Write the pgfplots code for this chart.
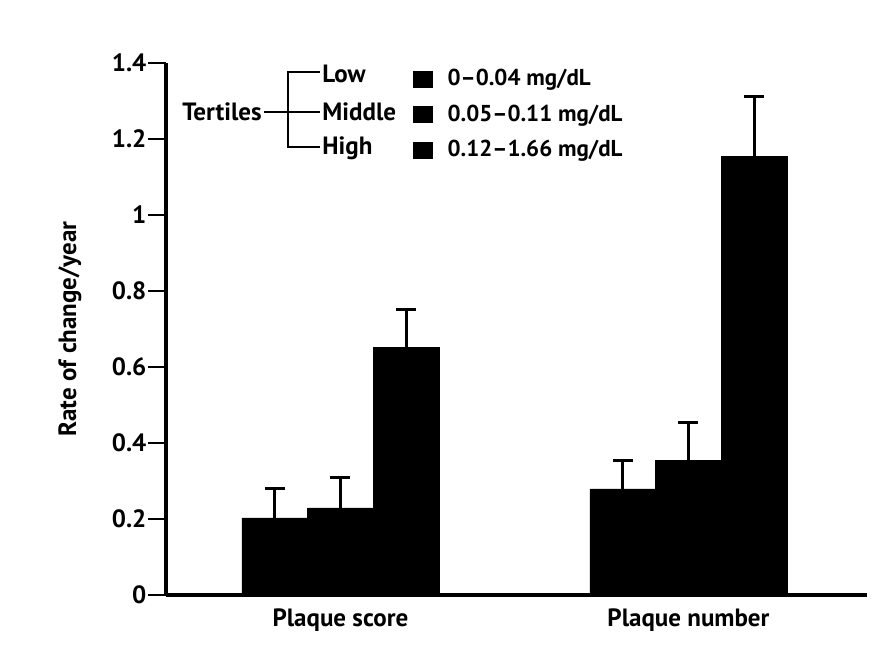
\documentclass[border=0pt]{standalone}
\usepackage{pgfplots}
\usepackage{pgfplotstable}
\pgfplotsset{compat=1.18}
\usetikzlibrary{plotmarks}
\usepackage{fontspec}
\setmainfont{PT Sans}
\pgfplotstableread{
x y e
0.8112 0.203 0.076
1.8112 0.279 0.076
}\lowdata
\pgfplotstableread{
x y e
1.0 0.229 0.079
2.0 0.355 0.098
}\middata
\pgfplotstableread{
x y e
1.1888 0.652 0.098
2.1888 1.155 0.156
}\highdata
\newcommand{\lblfont}{\bfseries\fontsize{12.5}{14}\selectfont}
\pgfplotsset{
  mybar/.style={ybar, bar width=0.1888, bar shift=0pt, fill=black, draw=black, line width=0.2pt,
    error bars/.cd, y dir=plus, y explicit, error mark=|,
    error bar style={draw=black, line width=1.5pt},
    error mark options={draw=black, line width=1.5pt, mark size=5pt}}
}
\begin{document}
\begin{tikzpicture}
\useasboundingbox (-83pt,-34pt) rectangle (363.5pt,297.5pt);
\begin{axis}[
  at={(0pt,0pt)}, anchor=south west,
  scale only axis, width=350.5pt, height=266pt,
  xmin=0.4986, xmax=2.513, ymin=0, ymax=1.4,
  axis x line=bottom, axis y line=left,
  axis line style={line width=1.6pt, -},
  ytick={0,0.2,0.4,0.6,0.8,1,1.2,1.4},
  yticklabels={0,0.2,0.4,0.6,0.8,1,1.2,1.4},
  tick align=outside,
  major y tick style={draw=black, line width=1.2pt},
  xtick=\empty,
  tick label style={font=\lblfont},
  yticklabel style={anchor=east, xshift=-2pt},
  every axis y label/.style={at={(rel axis cs:-0.137,0.5)}, rotate=90, anchor=center, font=\lblfont},
  ylabel={Rate of change/year},
  legend image code/.code={\fill[black] (0pt,-4pt) rectangle (9.5pt,4pt); \path (15pt,0pt);},
  legend style={at={(rel axis cs:0.352,0.996)}, anchor=north west, draw=none, fill=none, inner sep=0pt, row sep=4pt, font=\bfseries\fontsize{11.5}{13}\selectfont},
  legend cell align=left,
  clip=false,
]
\addplot[mybar] table[x=x, y=y, y error=e] {\lowdata};
\addlegendentry{0--0.04 mg/dL}
\addplot[mybar] table[x=x, y=y, y error=e] {\middata};
\addlegendentry{0.05--0.11 mg/dL}
\addplot[mybar] table[x=x, y=y, y error=e] {\highdata};
\addlegendentry{0.12--1.66 mg/dL}
% outward y tick marks
\pgfplotsinvokeforeach{0,0.2,0.4,0.6,0.8,1,1.2,1.4}{
  \draw[line width=1.2pt, line cap=butt] (axis cs:0.4986,#1) -- ++(-9pt,0pt);
}
% category labels
\node[anchor=north, inner sep=0pt, yshift=-6.5pt, font=\lblfont] at (axis cs:1,0) {Plaque score};
\node[anchor=north, inner sep=0pt, yshift=-6.5pt, font=\lblfont] at (axis cs:2,0) {Plaque number};
% tertile labels and bracket
\node[anchor=west, inner sep=0pt, font=\lblfont] at (rel axis cs:0.2225,0.979) {Low};
\node[anchor=west, inner sep=0pt, font=\lblfont] at (rel axis cs:0.2225,0.908) {Middle};
\node[anchor=west, inner sep=0pt, font=\lblfont] at (rel axis cs:0.2225,0.840) {High};
\node[anchor=east, inner sep=0pt, font=\lblfont] at (rel axis cs:0.137,0.908) {Tertiles};
\draw[line width=1pt] (rel axis cs:0.140,0.908) -- (rel axis cs:0.2197,0.908);
\draw[line width=1pt] (rel axis cs:0.2197,0.983) -- (rel axis cs:0.174,0.983) -- (rel axis cs:0.174,0.842) -- (rel axis cs:0.2197,0.842);
\end{axis}
\end{tikzpicture}
\end{document}
